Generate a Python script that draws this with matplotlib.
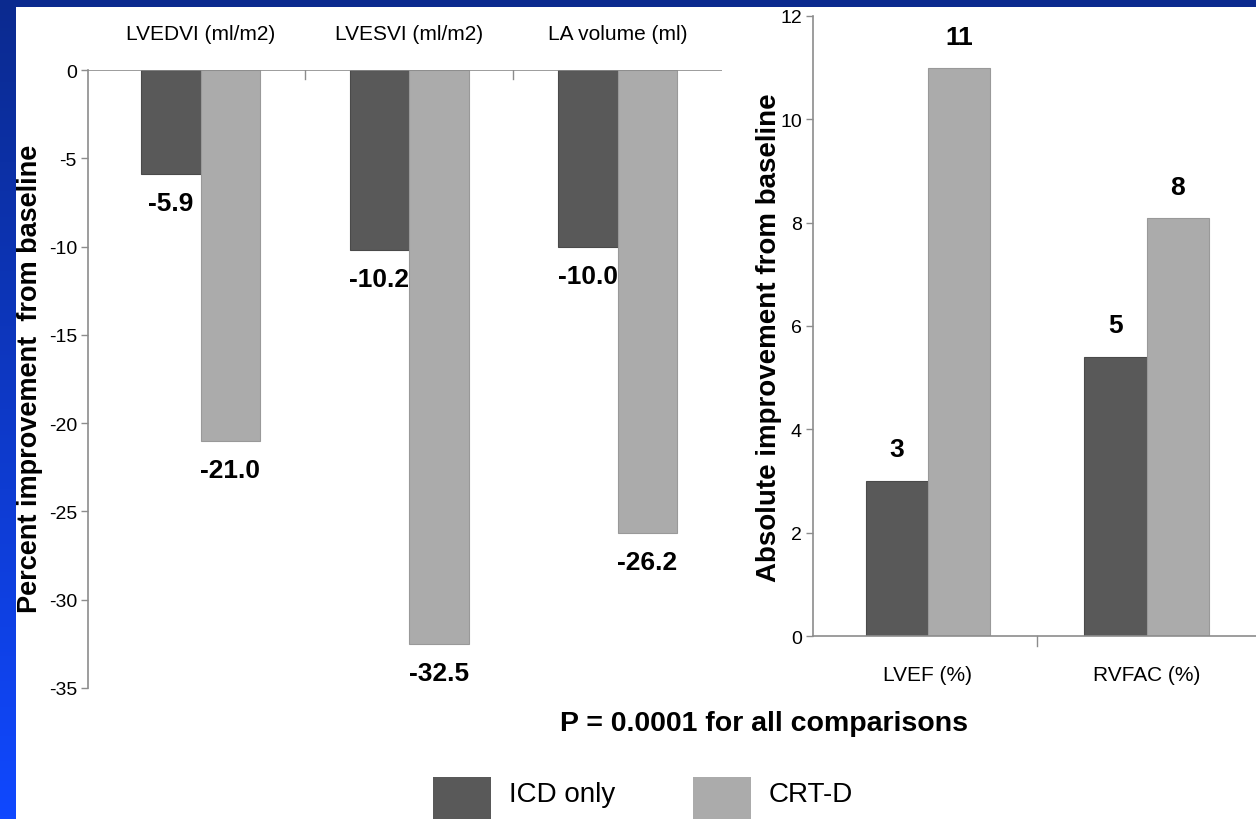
import numpy as np
import matplotlib
matplotlib.use("Agg")
import matplotlib.pyplot as plt
from matplotlib.patches import Rectangle

plt.rcParams["axes.unicode_minus"] = False

# data
left_cats = ["LVEDVI (ml/m2)", "LVESVI (ml/m2)", "LA volume (ml)"]
left_icd = [-5.9, -10.2, -10.0]
left_crt = [-21.0, -32.5, -26.2]
left_icd_labels = ["-5.9", "-10.2", "-10.0"]
left_crt_labels = ["-21.0", "-32.5", "-26.2"]

right_cats = ["LVEF (%)", "RVFAC (%)"]
right_icd = [3.0, 5.4]
right_crt = [11.0, 8.1]
right_icd_labels = ["3", "5"]
right_crt_labels = ["11", "8"]

series_names = ["ICD only", "CRT-D"]
left_yticks = [0, -5, -10, -15, -20, -25, -30, -35]
right_yticks = [0, 2, 4, 6, 8, 10, 12]

ICD_COLOR = "#595959"
CRT_COLOR = "#ababab"
AXIS_COLOR = "#8c8c8c"
NARROW = ["Liberation Sans Narrow", "Liberation Sans", "DejaVu Sans"]
WIDE = ["Liberation Sans", "DejaVu Sans"]

W, H = 1256, 820
fig = plt.figure(figsize=(W / 100, H / 100), dpi=100)
fig.patch.set_facecolor("white")

# ---- blue slide frame ----
frame = fig.add_axes([0, 0, 15 / W, 1])
grad = np.linspace(0, 1, 256).reshape(-1, 1)
frame.imshow(grad, aspect="auto", extent=[0, 1, 0, 1], origin="upper",
             cmap=matplotlib.colors.LinearSegmentedColormap.from_list(
                 "slide", ["#0b2a8f", "#1048ff"]))
frame.axis("off")
fig.patches.append(Rectangle((0, 1 - 8 / H), 1, 8 / H, transform=fig.transFigure,
                             facecolor="#0b2a8f", edgecolor="none", zorder=5))


def px(x0, y0, x1, y1):
    # pixel box (top-left origin) -> figure fraction
    return [x0 / W, 1 - y1 / H, (x1 - x0) / W, (y1 - y0) / H]


def style_axis(ax):
    for s in ["right", "bottom", "top"]:
        ax.spines[s].set_visible(False)
    ax.spines["left"].set_color(AXIS_COLOR)
    ax.spines["left"].set_linewidth(1.2)
    ax.tick_params(axis="y", colors=AXIS_COLOR, length=5, width=1, labelcolor="black",
                   labelsize=14, pad=3)
    for lab in ax.get_yticklabels():
        lab.set_family(NARROW)
    ax.set_facecolor("none")


bw = 0.285
VAL_SIZE = 19

# ======================================================
# LEFT PANEL - percent change
# ======================================================
axl = fig.add_axes(px(88, 71, 722, 689))
xl = np.arange(len(left_cats))
axl.bar(xl - bw / 2, left_icd, bw, color=ICD_COLOR, edgecolor="#4a4a4a", linewidth=0.8)
axl.bar(xl + bw / 2, left_crt, bw, color=CRT_COLOR, edgecolor="#999999", linewidth=0.8)
axl.set_xlim(-0.54, 2.5)
axl.set_ylim(-35, 0)
axl.set_yticks(left_yticks)
axl.set_xticks([])
axl.axhline(0, color=AXIS_COLOR, lw=1.2, zorder=3)
for b in [0.5, 1.5]:
    axl.plot([b, b], [0, -0.5], color=AXIS_COLOR, lw=1)
style_axis(axl)
for i, name in enumerate(left_cats):
    axl.annotate(name, (xl[i], 0), xytext=(0, 26), textcoords="offset points",
                 ha="center", va="center", family=NARROW, fontsize=15)
for i in range(len(left_cats)):
    axl.annotate(left_icd_labels[i], (xl[i] - bw / 2, left_icd[i]), xytext=(0, -21),
                 textcoords="offset points", ha="center", va="center",
                 family=NARROW, fontweight="bold", fontsize=VAL_SIZE)
    axl.annotate(left_crt_labels[i], (xl[i] + bw / 2, left_crt[i]), xytext=(0, -21),
                 textcoords="offset points", ha="center", va="center",
                 family=NARROW, fontweight="bold", fontsize=VAL_SIZE)

fig.text(30 / W, 1 - 379 / H, "Percent improvement  from baseline", rotation=90,
         ha="center", va="center", family=WIDE, fontweight="bold", fontsize=19.5)

# ======================================================
# RIGHT PANEL - absolute change
# ======================================================
axr = fig.add_axes(px(813, 17, 1256, 637))
xr = np.arange(len(right_cats))
axr.bar(xr - bw / 2, right_icd, bw, color=ICD_COLOR, edgecolor="#4a4a4a", linewidth=0.8)
axr.bar(xr + bw / 2, right_crt, bw, color=CRT_COLOR, edgecolor="#999999", linewidth=0.8)
axr.set_xlim(-0.525, 1.5)
axr.set_ylim(0, 12)
axr.set_yticks(right_yticks)
axr.set_xticks([])
axr.axhline(0, color=AXIS_COLOR, lw=1.2, zorder=3, clip_on=False)
axr.plot([0.5, 0.5], [0, -0.2], color=AXIS_COLOR, lw=1, clip_on=False)
style_axis(axr)
for i, name in enumerate(right_cats):
    axr.annotate(name, (xr[i], 0), xytext=(0, -28), textcoords="offset points",
                 ha="center", va="center", family=NARROW, fontsize=15)
for i in range(len(right_cats)):
    axr.annotate(right_icd_labels[i], (xr[i] - bw / 2, right_icd[i]), xytext=(0, 23),
                 textcoords="offset points", ha="center", va="center",
                 family=NARROW, fontweight="bold", fontsize=VAL_SIZE)
    axr.annotate(right_crt_labels[i], (xr[i] + bw / 2, right_crt[i]), xytext=(0, 22),
                 textcoords="offset points", ha="center", va="center",
                 family=NARROW, fontweight="bold", fontsize=VAL_SIZE)

fig.text(769 / W, 1 - 338 / H, "Absolute improvement from baseline", rotation=90,
         ha="center", va="center", family=WIDE, fontweight="bold", fontsize=20)

# ======================================================
# FOOTNOTE + LEGEND
# ======================================================
fig.text(764 / W, 1 - 724 / H, "P = 0.0001 for all comparisons", ha="center", va="center",
         family=NARROW, fontweight="bold", fontsize=20.5)

legend_colors = [ICD_COLOR, CRT_COLOR]
legend_x = [433, 693]
for name, col, lx in zip(series_names, legend_colors, legend_x):
    fig.patches.append(Rectangle((lx / W, 1 - 835 / H), 58 / W, 57 / H,
                                 transform=fig.transFigure, facecolor=col, edgecolor="none"))
    fig.text((lx + 76) / W, 1 - 795 / H, name, ha="left", va="center",
             family=NARROW, fontsize=20)

fig.savefig("out.png", dpi=100, facecolor="white")
